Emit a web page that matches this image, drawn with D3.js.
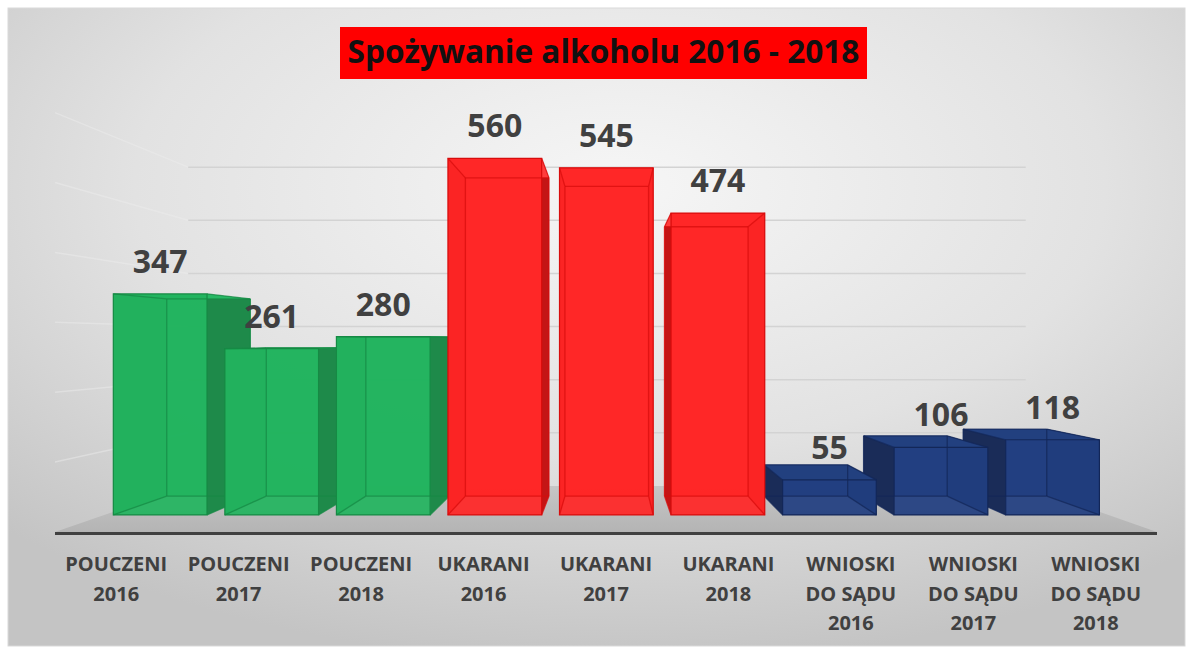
<!DOCTYPE html>
<html>
<head>
<meta charset="utf-8">
<script src="https://cdn.jsdelivr.net/npm/d3@7"></script>
<style>
  html, body { margin: 0; padding: 0; background: #ffffff; }
  svg { display: block; }
</style>
</head>
<body>
<svg id="chart" width="1191" height="653"></svg>
<script>
// ---------- data ----------
const title = "Spożywanie alkoholu 2016 - 2018";
const categories = [
  "POUCZENI 2016", "POUCZENI 2017", "POUCZENI 2018",
  "UKARANI 2016", "UKARANI 2017", "UKARANI 2018",
  "WNIOSKI DO SĄDU 2016", "WNIOSKI DO SĄDU 2017", "WNIOSKI DO SĄDU 2018"
];
const categoryLines = [
  ["POUCZENI", "2016"], ["POUCZENI", "2017"], ["POUCZENI", "2018"],
  ["UKARANI", "2016"], ["UKARANI", "2017"], ["UKARANI", "2018"],
  ["WNIOSKI", "DO SĄDU", "2016"], ["WNIOSKI", "DO SĄDU", "2017"], ["WNIOSKI", "DO SĄDU", "2018"]
];
const values = [347, 261, 280, 560, 545, 474, 55, 106, 118];
const groups = ["pouczeni", "pouczeni", "pouczeni", "ukarani", "ukarani", "ukarani", "wnioski", "wnioski", "wnioski"];
const gridTicks = [100, 200, 300, 400, 500, 600];

// ---------- styles ----------
const palette = {
  pouczeni: { front: "#22b45f", side: "#1e8a4a", top: "#27b864", edge: "#168a44" },
  ukarani:  { front: "#ff2626", side: "#c41515", top: "#ff3c3c", edge: "#d80c0c" },
  wnioski:  { front: "#213e80", side: "#1a2c58", top: "#22407f", edge: "#132758" }
};

const W = 1191, H = 653;
const svg = d3.select("#chart");
const defs = svg.append("defs");

// background gradient
const bg = defs.append("radialGradient").attr("id", "bgGrad")
  .attr("cx", "52%").attr("cy", "28%").attr("r", "75%")
  .attr("gradientUnits", "objectBoundingBox");
bg.append("stop").attr("offset", "0%").attr("stop-color", "#f6f6f6");
bg.append("stop").attr("offset", "55%").attr("stop-color", "#e2e2e2");
bg.append("stop").attr("offset", "100%").attr("stop-color", "#c4c4c4");

svg.append("rect").attr("x", 8).attr("y", 8).attr("width", 1177).attr("height", 638)
  .attr("fill", "url(#bgGrad)").attr("stroke", "#d9d9d9").attr("stroke-width", 1);

// ---------- 3D projection ----------
const V = [610, 340];
const sFront = 0.911, sBack = 0.813, sWall = 0.76;
const proj = (x, y, s) => [V[0] + (x - V[0]) * s, V[1] + (y - V[1]) * s];

const x = d3.scaleBand().domain(categories).range([55, 1157]).paddingInner(0.16).paddingOuter(0.08);
const y = d3.scaleLinear().domain([0, 600]).range([532, 532 - 419.4]);

// floor
const floorPts = [proj(55, y(0), 1), proj(1157, y(0), 1), proj(1157, y(0), sWall), proj(55, y(0), sWall)];
const floorGrad = defs.append("linearGradient").attr("id", "floorGrad").attr("x1", 0).attr("y1", 0).attr("x2", 0).attr("y2", 1);
floorGrad.append("stop").attr("offset", "0%").attr("stop-color", "#c6c6c6");
floorGrad.append("stop").attr("offset", "100%").attr("stop-color", "#b4b4b4");
svg.append("polygon").attr("points", floorPts.map(p => p.join(",")).join(" ")).attr("fill", "url(#floorGrad)");

// gridlines: back wall + left side wall
const grid = svg.append("g");
gridTicks.forEach(v => {
  const a = proj(55, y(v), sWall), b = proj(1157, y(v), sWall), c = proj(55, y(v), 1);
  grid.append("line").attr("x1", a[0]).attr("y1", a[1]).attr("x2", b[0]).attr("y2", b[1])
    .attr("stroke", "#d3d3d3").attr("stroke-width", 1.5);
  grid.append("line").attr("x1", a[0]).attr("y1", a[1]).attr("x2", c[0]).attr("y2", c[1])
    .attr("stroke", "#eeeeee").attr("stroke-width", 1.5).attr("opacity", 0.45);
});

// axis line
svg.append("line").attr("x1", 55).attr("y1", 533.5).attr("x2", 1157).attr("y2", 533.5)
  .attr("stroke", "#404040").attr("stroke-width", 3);

// ---------- bars ----------
const bars = categories.map((c, i) => {
  const x0 = x(c), x1 = x(c) + x.bandwidth();
  const yt = y(values[i]), yb = y(0);
  const F = { tl: proj(x0, yt, sFront), tr: proj(x1, yt, sFront), br: proj(x1, yb, sFront), bl: proj(x0, yb, sFront) };
  const B = { tl: proj(x0, yt, sBack), tr: proj(x1, yt, sBack), br: proj(x1, yb, sBack), bl: proj(x0, yb, sBack) };
  return { i, c, F, B, center: (x0 + x1) / 2, col: palette[groups[i]] };
});
const order = bars.slice().sort((a, b) => Math.abs(b.center - V[0]) - Math.abs(a.center - V[0]));
const poly = pts => pts.map(p => p.join(",")).join(" ");

const barG = svg.append("g");
order.forEach(b => {
  const g = barG.append("g");
  const { F, B, col } = b;
  g.append("polygon").attr("points", poly([B.tl, B.tr, B.br, B.bl]))
    .attr("fill", col.front).attr("fill-opacity", 0.9);
  g.append("polygon").attr("points", poly([F.tl, B.tl, B.bl, F.bl])).attr("fill", col.side);
  g.append("polygon").attr("points", poly([F.tr, B.tr, B.br, F.br])).attr("fill", col.side);
  g.append("polygon").attr("points", poly([F.tl, F.tr, B.tr, B.tl])).attr("fill", col.top);
  g.append("polygon").attr("points", poly([F.tl, F.tr, F.br, F.bl]))
    .attr("fill", col.front).attr("fill-opacity", 0.93)
    .attr("stroke", col.edge).attr("stroke-width", 1.2);
  const edges = [[B.tl, B.tr], [B.tr, B.br], [B.br, B.bl], [B.bl, B.tl],
                 [F.tl, B.tl], [F.tr, B.tr], [F.br, B.br], [F.bl, B.bl]];
  edges.forEach(([p, q]) => {
    g.append("line").attr("x1", p[0]).attr("y1", p[1]).attr("x2", q[0]).attr("y2", q[1])
      .attr("stroke", col.edge).attr("stroke-width", 1.3).attr("stroke-opacity", 0.75);
  });
});

// value labels
svg.append("g").selectAll("text").data(bars).join("text")
  .attr("x", b => (b.F.tl[0] + b.F.tr[0]) / 2)
  .attr("y", b => b.F.tl[1] - 21)
  .attr("text-anchor", "middle")
  .attr("font-family", "'Open Sans', sans-serif")
  .attr("font-weight", 700)
  .attr("font-size", 32)
  .attr("fill", "#404040")
  .text(b => values[b.i]);

// category labels
const catG = svg.append("g");
categories.forEach((c, i) => {
  const cx = x(c) + x.bandwidth() / 2;
  const t = catG.append("text")
    .attr("x", cx)
    .attr("y", 571)
    .attr("text-anchor", "middle")
    .attr("font-family", "'Open Sans', sans-serif")
    .attr("font-weight", 700)
    .attr("font-size", 20)
    .attr("fill", "#404040");
  categoryLines[i].forEach((line, k) => {
    t.append("tspan").attr("x", cx).attr("y", 571 + k * 29.5).text(line);
  });
});

// title
svg.append("rect").attr("x", 340).attr("y", 27).attr("width", 527).attr("height", 52).attr("fill", "#ff0000");
const tt = svg.append("text").attr("x", 603.5).attr("y", 63).attr("text-anchor", "middle")
  .attr("font-family", "'Open Sans', sans-serif").attr("font-weight", 700)
  .attr("font-size", 28).attr("fill", "#111111").text(title);
const tw = tt.node().getComputedTextLength();
tt.attr("font-size", 28 * 512 / tw);
</script>
</body>
</html>
